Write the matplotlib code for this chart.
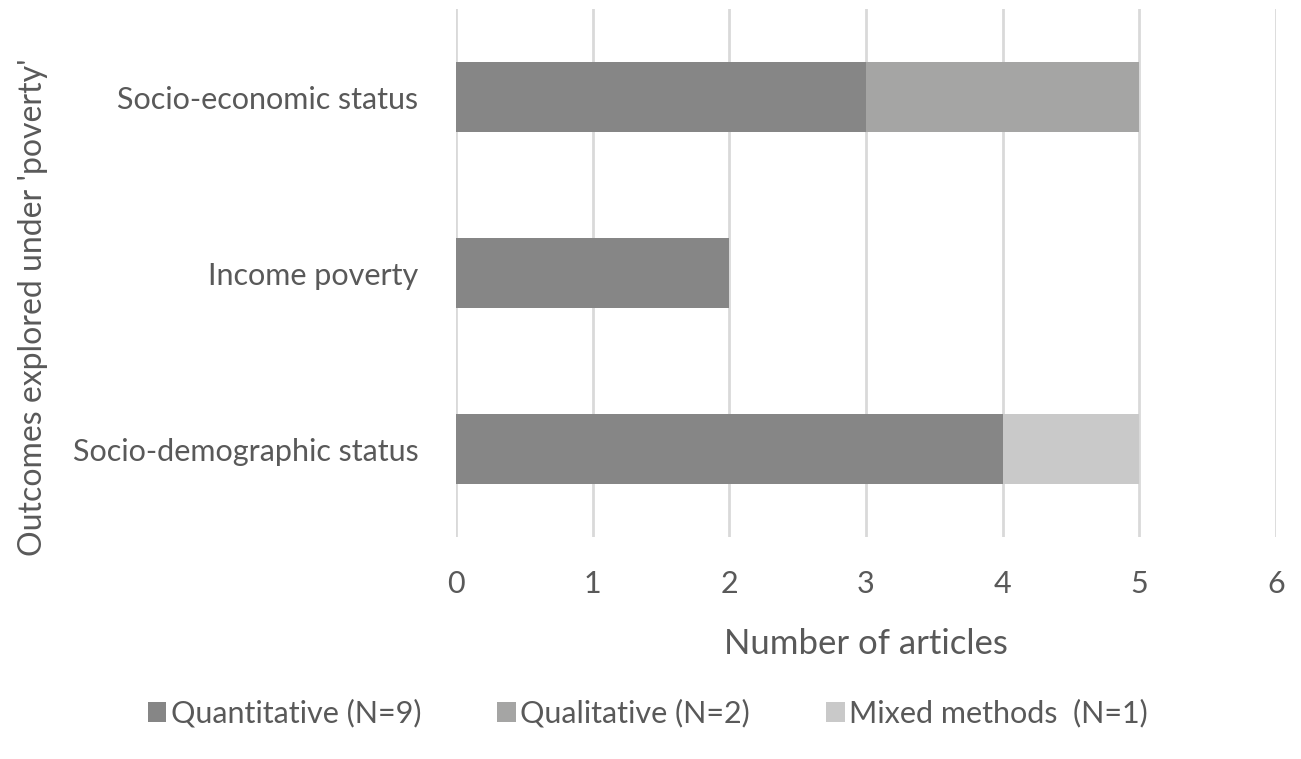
import matplotlib
matplotlib.use("Agg")
import matplotlib.pyplot as plt
import numpy as np

categories = ["Socio-demographic status", "Income poverty", "Socio-economic status"]
quantitative = [4, 2, 3]
qualitative = [0, 0, 2]
mixed = [1, 0, 0]
series_labels = ["Quantitative (N=9)", "Qualitative (N=2)", "Mixed methods  (N=1)"]
colors = ["#868686", "#a5a5a4", "#c9c9c9"]
xticks = [0, 1, 2, 3, 4, 5, 6]

plt.rcParams['font.family'] = ['Lato', 'DejaVu Sans']
fig = plt.figure(figsize=(13.01, 7.59), dpi=100)
ax = fig.add_axes([0.3505, 0.2925, 0.6303, 0.6955])

y = np.arange(len(categories))
left = np.zeros(len(categories))
for vals, lab, col in zip([quantitative, qualitative, mixed], series_labels, colors):
    ax.barh(y, vals, left=left, height=0.4, color=col, label=lab, zorder=3)
    left += np.array(vals)

ax.set_xlim(0, 6)
ax.set_ylim(-0.5, 2.5)
ax.set_xticks(xticks)
ax.set_yticks(y)
ax.set_yticklabels(categories)
ax.grid(axis='x', color='#d9d9d9', linewidth=2, zorder=0)
for s in ax.spines.values():
    s.set_visible(False)
ax.tick_params(axis='both', length=0, labelsize=22, colors='#595959')
ax.tick_params(axis='x', pad=24)
ax.tick_params(axis='y', pad=27)
ax.set_xlabel("Number of articles", fontsize=25, color='#595959')
ax.xaxis.set_label_coords(0.5, -0.172)
ax.set_ylabel("Outcomes explored under 'poverty'", fontsize=23, color='#595959')
ax.yaxis.set_label_coords(-0.497, 0.436)

leg = fig.legend(*ax.get_legend_handles_labels(), loc='center', bbox_to_anchor=(0.498, 0.06),
                 ncol=3, frameon=False, fontsize=22, handlelength=0.6, handleheight=0.6,
                 handletextpad=0.15, columnspacing=2.5, labelcolor='#595959')

fig.savefig("out.png", dpi=100)
